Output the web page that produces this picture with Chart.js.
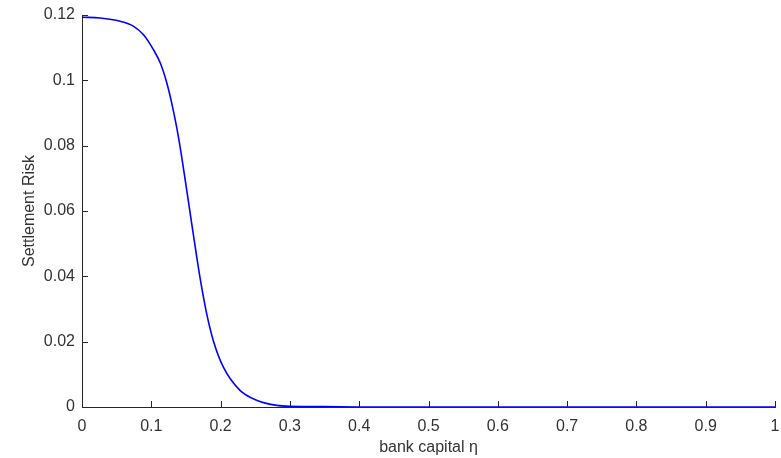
<!DOCTYPE html>
<html>
<head>
<meta charset="utf-8">
<script src="https://cdn.jsdelivr.net/npm/chart.js@4/dist/chart.umd.min.js"></script>
<style>
html,body{margin:0;padding:0;background:#fff;}
#wrap{width:781px;height:458px;position:relative;}
</style>
</head>
<body>
<div id="wrap"><canvas id="c" width="781" height="458"></canvas></div>
<script>
// bank capital eta (x) and settlement risk (y)
const capital = [0, 0.026, 0.055, 0.074, 0.0885, 0.103, 0.113, 0.122, 0.129, 0.137, 0.143, 0.149, 0.158, 0.170, 0.180, 0.1895, 0.204, 0.228, 0.252, 0.281, 0.30, 0.35, 0.40, 0.50, 0.60, 0.70, 0.80, 0.90, 1.00];
const risk    = [0.1193, 0.1191, 0.1181, 0.1166, 0.1140, 0.1094, 0.1053, 0.0995, 0.0935, 0.0852, 0.0777, 0.0694, 0.0566, 0.0400, 0.0285, 0.0203, 0.0122, 0.0051, 0.0021, 0.0005, 0.0002, 0.0001, 0, 0, 0, 0, 0, 0, 0];
const xTicks = [0, 0.1, 0.2, 0.3, 0.4, 0.5, 0.6, 0.7, 0.8, 0.9, 1];
const yTicks = [0, 0.02, 0.04, 0.06, 0.08, 0.1, 0.12];

const points = capital.map((x, i) => ({x: x, y: risk[i]}));
const FONT = {family: '"Liberation Sans", Arial, Helvetica, sans-serif', size: 16};
const INK = '#262626';
const TXT = '#333333';
const fmt = v => String(parseFloat(Number(v).toFixed(2)));

const inwardTicks = {
  id: 'inwardTicks',
  beforeDatasetsDraw(chart) {
    const {ctx, chartArea: a, scales: {x, y}} = chart;
    ctx.save();
    ctx.strokeStyle = INK;
    ctx.lineWidth = 1;
    ctx.beginPath();
    xTicks.forEach(v => {
      const px = Math.round(x.getPixelForValue(v)) + 0.5;
      ctx.moveTo(px, a.bottom);
      ctx.lineTo(px, a.bottom - 6);
    });
    yTicks.forEach(v => {
      const py = Math.round(y.getPixelForValue(v)) + 0.5;
      ctx.moveTo(a.left, py);
      ctx.lineTo(a.left + 6, py);
    });
    ctx.stroke();
    ctx.restore();
  }
};

new Chart(document.getElementById('c'), {
  type: 'scatter',
  data: {
    datasets: [{
      data: points,
      showLine: true,
      borderColor: '#0000ff',
      borderWidth: 1.6,
      pointRadius: 0,
      cubicInterpolationMode: 'monotone',
      fill: false
    }]
  },
  options: {
    responsive: false,
    animation: false,
    events: [],
    layout: {padding: {top: 15, right: 6, left: 0, bottom: 0}},
    plugins: {legend: {display: false}, tooltip: {enabled: false}},
    scales: {
      x: {
        type: 'linear', min: 0, max: 1,
        afterBuildTicks: s => { s.ticks = xTicks.map(v => ({value: v})); },
        afterFit: s => { s.height = 51; s.paddingRight = 0; s.paddingLeft = 0; },
        grid: {display: false, drawTicks: false},
        border: {display: true, color: INK, width: 1},
        ticks: {color: TXT, font: FONT, padding: 10, maxRotation: 0, autoSkip: false, callback: fmt},
        title: {display: true, text: 'bank capital η', color: TXT, font: FONT, padding: {top: 0, bottom: 1}}
      },
      y: {
        type: 'linear', min: 0, max: 0.12,
        afterBuildTicks: s => { s.ticks = yTicks.map(v => ({value: v})); },
        afterFit: s => { s.width = 82; s.paddingTop = 0; s.paddingBottom = 0; },
        grid: {display: false, drawTicks: false},
        border: {display: true, color: INK, width: 1},
        ticks: {color: TXT, font: FONT, padding: 7, autoSkip: false, callback: fmt},
        title: {display: true, text: 'Settlement Risk', color: TXT, font: FONT, padding: {top: 20, bottom: 0}}
      }
    }
  },
  plugins: [inwardTicks]
});
</script>
</body>
</html>
